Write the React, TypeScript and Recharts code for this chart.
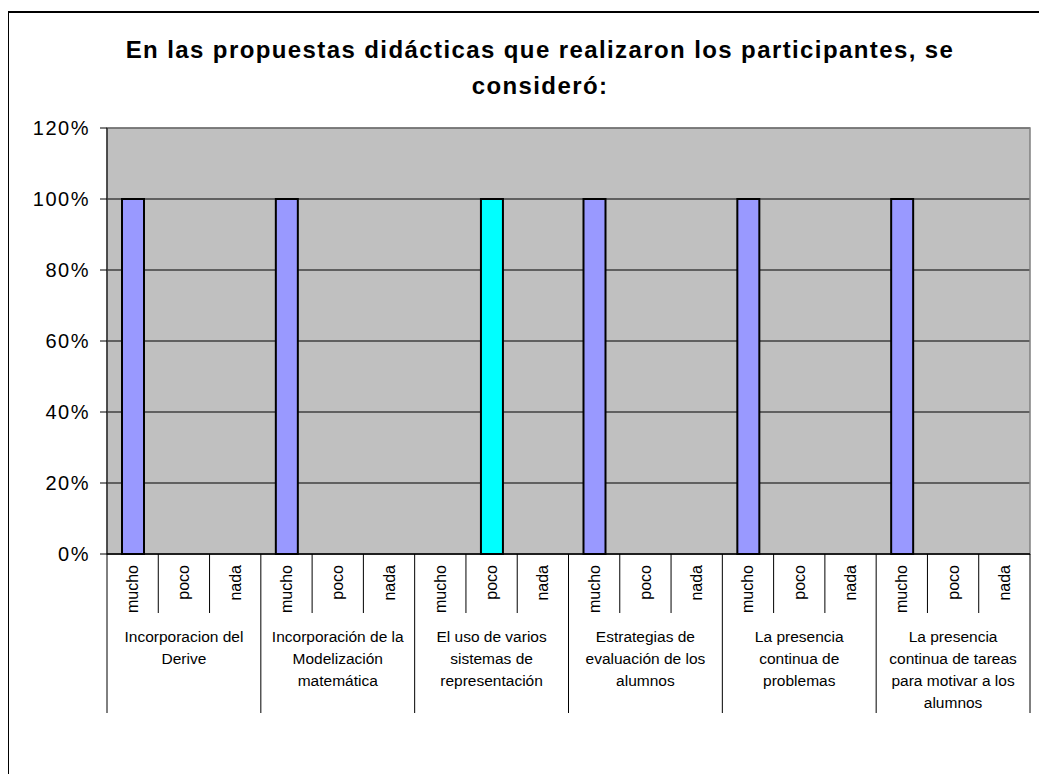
import { Bar, BarChart, CartesianGrid, Cell, ReferenceArea, XAxis, YAxis } from "recharts";

const groups = [
  "Incorporacion del\nDerive",
  "Incorporación de la\nModelización\nmatemática",
  "El uso de varios\nsistemas de\nrepresentación",
  "Estrategias de\nevaluación de los\nalumnos",
  "La presencia\ncontinua de\nproblemas",
  "La presencia\ncontinua de tareas\npara motivar a los\nalumnos",
];
const levels = ["mucho", "poco", "nada"];
const mucho = [1, 1, 0, 1, 1, 1];
const poco = [0, 0, 1, 0, 0, 0];
const nada = [0, 0, 0, 0, 0, 0];
const yTicks = [0, 0.2, 0.4, 0.6, 0.8, 1, 1.2];
const levelColors: Record<string, string> = { mucho: "#9999ff", poco: "#00ffff", nada: "#ffffff" };

const byLevel = [mucho, poco, nada];
const data = groups.flatMap((g, gi) =>
  levels.map((lv, li) => ({ key: `${gi}-${lv}`, group: g, level: lv, value: byLevel[li][gi] }))
);

const W = 1039;
const H = 766;
const FONT = "'Liberation Sans', Arial, sans-serif";

function CategoryTick(props: any) {
  const { x, y, payload, index } = props;
  const half = payload?.offset || 25.64;
  const row = data[index];
  const inGroup = index % 3;
  const lines = row.group.split("\n");
  return (
    <g>
      {index === 0 && <line x1={x - half} x2={x - half} y1={y} y2={y + 159} stroke="#000" />}
      <line
        x1={x + half}
        x2={x + half}
        y1={y}
        y2={inGroup === 2 ? y + 159 : y + 59}
        stroke="#000"
      />
      <text
        transform={`translate(${x},${y + 11}) rotate(-90)`}
        textAnchor="end"
        dominantBaseline="central"
        fontSize={16}
        fontFamily={FONT}
        fill="#000"
      >
        {row.level}
      </text>
      {inGroup === 1 && (
        <text textAnchor="middle" fontSize={15.5} fontFamily={FONT} fill="#000">
          {lines.map((l: string, i: number) => (
            <tspan key={i} x={x} y={y + 88 + i * 22}>
              {l}
            </tspan>
          ))}
        </text>
      )}
    </g>
  );
}

export default function App() {
  return (
    <div style={{ position: "relative", width: W, height: H, fontFamily: FONT }}>
      <div
        style={{
          position: "absolute",
          left: -1,
          top: 3,
          width: 1040,
          height: 763,
          borderLeft: "2px solid #000",
          borderTop: "2px solid #000",
          boxSizing: "border-box",
        }}
      />
      <div
        style={{
          position: "absolute",
          left: 100,
          width: 864,
          top: 24,
          textAlign: "center",
          fontWeight: "bold",
          fontSize: 24,
          letterSpacing: 1.4,
          lineHeight: "36px",
          color: "#000",
        }}
      >
        En las propuestas didácticas que realizaron los participantes, se
        <br />
        consideró:
      </div>
      <div style={{ position: "absolute", left: 0, top: 0 }}>
        <BarChart
          width={W}
          height={H}
          data={data}
          barCategoryGap={0}
          margin={{ top: 120, right: 17, bottom: 60, left: 29 }}
        >
          <CartesianGrid vertical={false} stroke="#000" fill="#c0c0c0" />
          <ReferenceArea y1={0} y2={1.2} fill="none" stroke="#808080" strokeWidth={1.5} ifOverflow="visible" />
          <XAxis
            dataKey="key"
            interval={0}
            height={160}
            tickLine={false}
            tickSize={0}
            tickMargin={0}
            axisLine={{ stroke: "#000", strokeWidth: 1.5 }}
            tick={<CategoryTick />}
          />
          <YAxis
            width={70}
            domain={[0, 1.2]}
            ticks={yTicks}
            interval={0}
            tickSize={7}
            tickMargin={10}
            axisLine={{ stroke: "#000" }}
            tickLine={{ stroke: "#000" }}
            tick={{ fill: "#000", fontSize: 20, fontFamily: FONT, letterSpacing: 1.5 }}
            tickFormatter={(v: number) => `${Math.round(v * 100)}%`}
          />
          <Bar dataKey="value" barSize={22} isAnimationActive={false}>
            {data.map((d) => (
              <Cell
                key={d.key}
                fill={levelColors[d.level]}
                stroke={d.value > 0 ? "#000" : "none"}
                strokeWidth={2}
              />
            ))}
          </Bar>
        </BarChart>
      </div>
    </div>
  );
}
